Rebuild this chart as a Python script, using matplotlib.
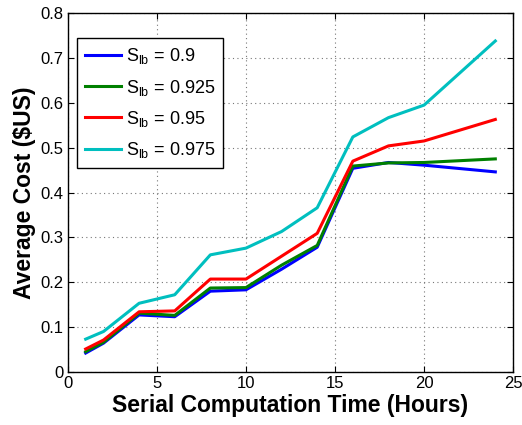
import matplotlib
matplotlib.use('Agg')
import matplotlib.pyplot as plt

plt.rcParams['font.family'] = ['Liberation Sans', 'DejaVu Sans']
plt.rcParams['mathtext.fontset'] = 'custom'
plt.rcParams['mathtext.rm'] = 'Liberation Sans'

# serial computation time (hours)
hours = [1, 2, 4, 6, 8, 10, 12, 14, 16, 18, 20, 24]

# average cost per lower bound S_lb
cost_090 = [0.042, 0.064, 0.127, 0.123, 0.180, 0.183, 0.229, 0.278, 0.454, 0.467, 0.461, 0.446]
cost_0925 = [0.045, 0.066, 0.131, 0.126, 0.187, 0.188, 0.238, 0.282, 0.459, 0.466, 0.467, 0.475]
cost_095 = [0.051, 0.071, 0.134, 0.136, 0.207, 0.207, 0.258, 0.309, 0.470, 0.504, 0.515, 0.563]
cost_0975 = [0.073, 0.090, 0.153, 0.172, 0.261, 0.276, 0.313, 0.366, 0.524, 0.567, 0.595, 0.738]

labels = ['0.9', '0.925', '0.95', '0.975']

fig = plt.figure(figsize=(5.22, 4.25), dpi=100)
ax = fig.add_axes([0.130, 0.125, 0.853, 0.844])

series = [cost_090, cost_0925, cost_095, cost_0975]
colors = ['#0000ff', '#008000', '#ff0000', '#00bfbf']
for ys, c, lab in zip(series, colors, labels):
    ax.plot(hours, ys, color=c, linewidth=2.2,
            label=r'$\mathregular{S_{lb}}$ = ' + lab)

ax.set_xlim(0, 25)
ax.set_ylim(0, 0.8)
ax.set_xticks([0, 5, 10, 15, 20, 25])
ax.set_yticks([0, 0.1, 0.2, 0.3, 0.4, 0.5, 0.6, 0.7, 0.8])
ax.set_yticklabels(['0', '0.1', '0.2', '0.3', '0.4', '0.5', '0.6', '0.7', '0.8'])
ax.tick_params(direction='in', top=True, right=True, labelsize=12, length=4, pad=3)
ax.grid(True, linestyle=(0, (1, 3)), color='#777777', linewidth=0.8)
for s in ax.spines.values():
    s.set_linewidth(1.0)

ax.set_xlabel('Serial Computation Time (Hours)', fontsize=16.5, fontweight='bold', labelpad=2)
ax.set_ylabel('Average Cost ($US)', fontsize=16.5, fontweight='bold', labelpad=3)

leg = ax.legend(loc='upper left', bbox_to_anchor=(0.02, 0.93), borderaxespad=0,
                fontsize=13, fancybox=False, framealpha=1, edgecolor='black',
                handlelength=2.0, handletextpad=0.25, labelspacing=0.62, borderpad=0.45)
leg.get_frame().set_linewidth(1.0)

fig.savefig('out.png', dpi=100)
